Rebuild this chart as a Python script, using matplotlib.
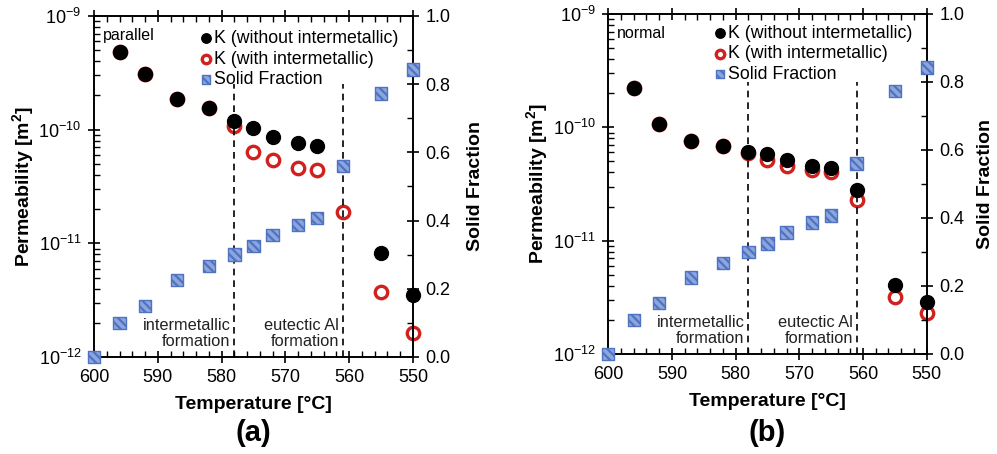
import numpy as np
import matplotlib
matplotlib.use("Agg")
import matplotlib.pyplot as plt
from matplotlib.ticker import MultipleLocator, LogLocator, NullFormatter

plt.rcParams['font.family'] = ['Liberation Sans', 'DejaVu Sans']
plt.rcParams['mathtext.default'] = 'regular'
plt.rcParams['axes.unicode_minus'] = False
plt.rcParams['hatch.color'] = 'white'
plt.rcParams['hatch.linewidth'] = 1.6

# temperatures [°C]
temp = [600, 596, 592, 587, 582, 578, 575, 572, 568, 565, 561, 555, 550]
temp_k = temp[1:]

# solid fraction (same for both panels)
solid_frac = [0.0, 0.10, 0.15, 0.225, 0.267, 0.30, 0.325, 0.357, 0.387, 0.407, 0.56, 0.773, 0.843]

# (a) parallel
k_without_a = [4.8e-10, 3.1e-10, 1.85e-10, 1.55e-10, 1.18e-10, 1.04e-10, 8.6e-11, 7.6e-11, 7.2e-11, np.nan, 8.3e-12, 3.5e-12]
k_with_a = [4.8e-10, 3.1e-10, 1.85e-10, 1.55e-10, 1.08e-10, 6.3e-11, 5.4e-11, 4.6e-11, 4.4e-11, 1.88e-11, 3.7e-12, 1.64e-12]

# (b) normal
k_without_b = [2.24e-10, 1.07e-10, 7.6e-11, 6.8e-11, 6.1e-11, 5.8e-11, 5.2e-11, 4.6e-11, 4.4e-11, 2.8e-11, 4.1e-12, 2.87e-12]
k_with_b = [2.24e-10, 1.07e-10, 7.6e-11, 6.8e-11, 5.9e-11, 5.1e-11, 4.6e-11, 4.2e-11, 4.0e-11, 2.28e-11, 3.2e-12, 2.28e-12]

RED = '#d0211f'
SQ_FACE = '#8ca5dc'
SQ_EDGE = '#4f73c3'


def panel(fig, rect, k_without, k_with, tag, letter, leg_y, rpad):
    ax = fig.add_axes(rect)
    ax2 = ax.twinx()

    ax.scatter(temp_k, k_with, s=80, facecolor='white', edgecolor=RED, linewidth=2.4,
               zorder=2, clip_on=False, label='K (with intermetallic)')
    ax.scatter(temp_k, k_without, s=100, color='black', zorder=3, clip_on=False,
               label='K (without intermetallic)')
    sq = ax2.scatter(temp, solid_frac, s=80, marker='s', facecolor=SQ_FACE, edgecolor=SQ_EDGE,
                     linewidth=1.0, hatch='\\\\\\\\', zorder=4, clip_on=False, label='Solid Fraction')

    ax.set_yscale('log')
    ax.set_ylim(1e-12, 1e-9)
    ax.set_xlim(600, 550)
    ax2.set_ylim(0, 1)

    for t in (578, 561):
        ax2.axvline(t, ymin=0, ymax=0.80, color='black', linestyle=(0, (4, 3)), linewidth=1.2, zorder=1)

    ax.xaxis.set_major_locator(MultipleLocator(10))
    ax.xaxis.set_minor_locator(MultipleLocator(2))
    ax.yaxis.set_major_locator(LogLocator(base=10, numticks=10))
    ax.yaxis.set_minor_locator(LogLocator(base=10, subs=np.arange(2, 10), numticks=20))
    ax.yaxis.set_minor_formatter(NullFormatter())
    ax2.yaxis.set_major_locator(MultipleLocator(0.2))
    ax2.yaxis.set_minor_locator(MultipleLocator(0.1))
    ax2.yaxis.set_major_formatter(plt.FuncFormatter(lambda v, p: f'{v:.1f}'))

    ax.tick_params(which='major', direction='inout', length=8, width=1.2, labelsize=13,
                   top=True, bottom=True, pad=5)
    ax.tick_params(which='minor', direction='in', length=4, width=1.0, top=True, bottom=True)
    ax.tick_params(axis='y', which='both', right=False)
    ax2.tick_params(which='major', direction='inout', length=8, width=1.2, labelsize=13, pad=5)
    ax2.tick_params(which='minor', direction='in', length=4, width=1.0)
    for a in (ax, ax2):
        for s in a.spines.values():
            s.set_linewidth(1.2)

    ax.set_xlabel('Temperature [°C]', fontsize=14, fontweight='bold', labelpad=7)
    ax.set_ylabel('Permeability [m$^2$]', fontsize=14, fontweight='bold', labelpad=2)
    ax2.set_ylabel('Solid Fraction', fontsize=14, fontweight='bold', labelpad=rpad)

    ax.text(598.6, 0.942, tag, transform=ax.get_xaxis_transform(), fontsize=11.5, va='center', ha='left')
    ax2.text(578.6, 0.068, 'intermetallic\nformation', fontsize=11.8, ha='right', va='center',
             multialignment='right', linespacing=1.1, color='#222222')
    ax2.text(561.6, 0.068, 'eutectic Al\nformation', fontsize=11.8, ha='right', va='center',
             multialignment='right', linespacing=1.1, color='#222222')

    h1, l1 = ax.get_legend_handles_labels()
    handles = [h1[1], h1[0], sq]
    labels = [l1[1], l1[0], 'Solid Fraction']
    ax2.legend(handles, labels, loc='upper left', bbox_to_anchor=(0.295, leg_y), frameon=False,
               fontsize=12.8, handletextpad=0.05, handlelength=0.8, labelspacing=0.2,
               borderpad=0.1, markerscale=0.68)

    x0, w = rect[0], rect[2]
    fig.text(x0 + w / 2, 0.047, letter, fontsize=21, fontweight='bold', ha='center', va='center')
    return ax


fig = plt.figure(figsize=(9.97, 4.54), dpi=100)
panel(fig, [0.0943, 0.2137, 0.3199, 0.7511], k_without_a, k_with_a, 'parallel', '(a)', 0.99, 12)
panel(fig, [0.6101, 0.2203, 0.3194, 0.7489], k_without_b, k_with_b, 'normal', '(b)', 1.0, 9)
fig.savefig('out.png', dpi=100)
